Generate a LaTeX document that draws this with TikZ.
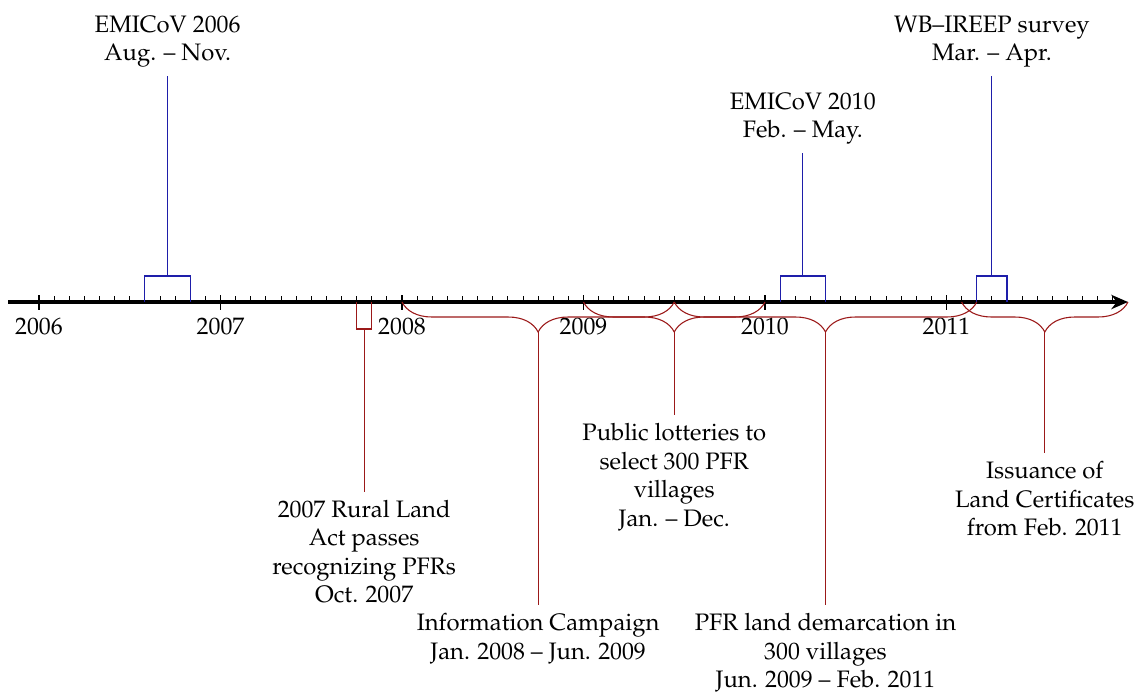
\documentclass[tikz,border=0pt]{standalone}
\usepackage[T1]{fontenc}
\usepackage{mathpazo}
\usetikzlibrary{decorations.pathreplacing,arrows.meta}
\definecolor{evblue}{RGB}{30,30,170}
\definecolor{evred}{RGB}{155,25,25}
\begin{document}
\begin{tikzpicture}[x=0.42pt,y=-0.42pt,
  survey/.style={draw=evblue,line width=0.45pt},
  event/.style={draw=evred,line width=0.45pt},
  evbrace/.style={draw=evred,line width=0.45pt,decorate,decoration={brace,mirror,amplitude=12.6pt}},
  toplabel/.style={anchor=south,align=center},
  botlabel/.style={anchor=north,align=center},
  yearlabel/.style={anchor=north}]
\useasboundingbox (0,0) rectangle (1141,695);

% axis
\coordinate (axstart) at (8,302);
\coordinate (axend) at (1128,302);
\draw[line width=2pt,-{Stealth[length=7pt,width=6pt]}] (axstart) -- (axend);
\foreach \m in {0,...,71} {
  \draw[line width=0.4pt] ({39+\m*15.125},296) -- ({39+\m*15.125},302);
}
\foreach \yr [count=\i from 0] in {2006,...,2011} {
  \draw[line width=0.45pt] ({39+\i*181.5},295) -- ({39+\i*181.5},310) node[yearlabel] (y\yr) {\yr};
}

% surveys (blue)
\draw[survey] (144.9,302) -- (144.9,276) -- (190.25,276) -- (190.25,302);
\coordinate (s1) at (167.6,276);
\node[toplabel] (t1) at (167.6,76) {EMICoV 2006\\Aug. -- Nov.};
\draw[survey] (s1) -- (t1.south);

\draw[survey] (780.1,302) -- (780.1,276) -- (825.5,276) -- (825.5,302);
\coordinate (s2) at (802.8,276);
\node[toplabel] (t2) at (802.8,153) {EMICoV 2010\\Feb. -- May.};
\draw[survey] (s2) -- (t2.south);

\draw[survey] (976.75,302) -- (976.75,276) -- (1007,276) -- (1007,302);
\coordinate (s3) at (991.9,276);
\node[toplabel] (t3) at (991.9,76) {WB--IREEP survey\\Mar. -- Apr.};
\draw[survey] (s3) -- (t3.south);

% rural land act (red box)
\draw[event] (356.6,302) -- (356.6,329) -- (371.8,329) -- (371.8,302);
\coordinate (e1) at (364.2,329);
\node[botlabel] (b1) at (364.2,491.5) {2007 Rural Land\\Act passes\\recognizing PFRs\\Oct. 2007};
\draw[event] (e1) -- (b1.north);

% braces
\coordinate (p1a) at (402,302);
\coordinate (p1b) at (674.25,302);
\draw[evbrace] (p1a) -- (p1b);
\coordinate (c1) at (538.1,332);
\node[botlabel] (b2) at (538.1,605) {Information Campaign\\Jan. 2008 -- Jun. 2009};
\draw[event] (c1) -- (b2.north);

\coordinate (p2a) at (583.5,302);
\coordinate (p2b) at (765,302);
\draw[evbrace] (p2a) -- (p2b);
\coordinate (c2) at (674.25,332);
\node[botlabel] (b3) at (674.25,415) {Public lotteries to\\select 300 PFR\\villages\\Jan. -- Dec.};
\draw[event] (c2) -- (b3.north);

\coordinate (p3a) at (674.25,302);
\coordinate (p3b) at (976.75,302);
\draw[evbrace] (p3a) -- (p3b);
\coordinate (c3) at (825.5,332);
\node[botlabel] (b4) at (825.5,605) {PFR land demarcation in\\300 villages\\Jun. 2009 -- Feb. 2011};
\draw[event] (c3) -- (b4.north);

\coordinate (p4a) at (961.6,302);
\coordinate (p4b) at (1128,302);
\draw[evbrace] (p4a) -- (p4b);
\coordinate (c4) at (1044.8,332);
\node[botlabel] (b5) at (1044.8,453) {Issuance of\\Land Certificates\\from Feb. 2011};
\draw[event] (c4) -- (b5.north);
\end{tikzpicture}
\end{document}
